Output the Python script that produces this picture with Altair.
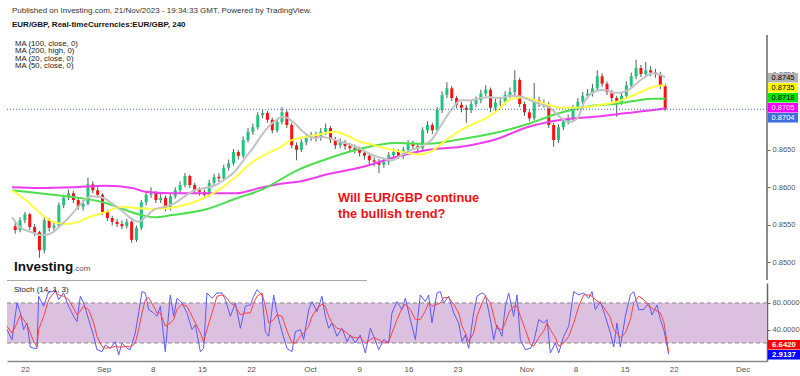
import altair as alt
import pandas as pd

FONT = "Liberation Sans, Arial, sans-serif"

# ---------------- price candles (4h-ish, two per trading day) ----------------
first_open = 0.8548
closes = [0.8543, 0.8556, 0.8564, 0.8547, 0.8540, 0.8516, 0.8556, 0.8546, 0.8549, 0.8576,
          0.8586, 0.8592, 0.8583, 0.8574, 0.8578, 0.8604, 0.8596, 0.8590, 0.8567, 0.8559,
          0.8554, 0.8551, 0.8548, 0.8554, 0.8530, 0.8546, 0.8580, 0.8590, 0.8592, 0.8583,
          0.8586, 0.8572, 0.8588, 0.8596, 0.8603, 0.8615, 0.8603, 0.8596, 0.8594, 0.8590,
          0.8606, 0.8614, 0.8612, 0.8626, 0.8632, 0.8647, 0.8642, 0.8663, 0.8674, 0.8680,
          0.8696, 0.8699, 0.8690, 0.8676, 0.8687, 0.8700, 0.8683, 0.8656, 0.8650, 0.8660,
          0.8666, 0.8670, 0.8666, 0.8674, 0.8679, 0.8663, 0.8656, 0.8660, 0.8655, 0.8652,
          0.8650, 0.8646, 0.8642, 0.8636, 0.8634, 0.8630, 0.8634, 0.8643, 0.8647, 0.8642,
          0.8650, 0.8659, 0.8655, 0.8652, 0.8676, 0.8683, 0.8676, 0.8703, 0.8723, 0.8732,
          0.8719, 0.8710, 0.8706, 0.8703, 0.8711, 0.8716, 0.8725, 0.8730, 0.8706, 0.8713,
          0.8714, 0.8723, 0.8727, 0.8743, 0.8711, 0.8700, 0.8692, 0.8716, 0.8712, 0.8711,
          0.8683, 0.8663, 0.8680, 0.8688, 0.8692, 0.8706, 0.8714, 0.8722, 0.8725, 0.8732,
          0.8748, 0.8738, 0.8727, 0.8719, 0.8714, 0.8722, 0.8736, 0.8748, 0.8759, 0.8751,
          0.8756, 0.8753, 0.8751, 0.8735, 0.8704]
highs = [0.8553, 0.8560, 0.8567, 0.8566, 0.8551, 0.8542, 0.8560, 0.8559, 0.8553, 0.8580,
         0.8590, 0.8597, 0.8595, 0.8586, 0.8583, 0.8613, 0.8608, 0.8600, 0.8592, 0.8570,
         0.8562, 0.8558, 0.8556, 0.8558, 0.8556, 0.8549, 0.8583, 0.8595, 0.8600, 0.8595,
         0.8591, 0.8589, 0.8592, 0.8600, 0.8608, 0.8619, 0.8617, 0.8606, 0.8600, 0.8597,
         0.8610, 0.8618, 0.8619, 0.8630, 0.8637, 0.8651, 0.8650, 0.8668, 0.8679, 0.8685,
         0.8700, 0.8703, 0.8702, 0.8693, 0.8691, 0.8707, 0.8703, 0.8686, 0.8660, 0.8664,
         0.8670, 0.8674, 0.8674, 0.8679, 0.8685, 0.8682, 0.8667, 0.8665, 0.8663, 0.8659,
         0.8657, 0.8654, 0.8650, 0.8646, 0.8640, 0.8638, 0.8638, 0.8647, 0.8652, 0.8651,
         0.8654, 0.8663, 0.8662, 0.8659, 0.8680, 0.8688, 0.8686, 0.8707, 0.8728, 0.8740,
         0.8735, 0.8722, 0.8714, 0.8710, 0.8715, 0.8721, 0.8730, 0.8736, 0.8733, 0.8718,
         0.8720, 0.8728, 0.8733, 0.8756, 0.8746, 0.8714, 0.8704, 0.8739, 0.8721, 0.8717,
         0.8714, 0.8686, 0.8684, 0.8692, 0.8697, 0.8710, 0.8719, 0.8727, 0.8731, 0.8738,
         0.8756, 0.8752, 0.8741, 0.8730, 0.8722, 0.8726, 0.8741, 0.8753, 0.8770, 0.8763,
         0.8767, 0.8762, 0.8758, 0.8754, 0.8738]
lows = [0.8538, 0.8540, 0.8552, 0.8543, 0.8535, 0.8506, 0.8512, 0.8541, 0.8540, 0.8546,
        0.8572, 0.8583, 0.8579, 0.8570, 0.8569, 0.8576, 0.8592, 0.8586, 0.8563, 0.8555,
        0.8549, 0.8547, 0.8544, 0.8545, 0.8526, 0.8527, 0.8543, 0.8576, 0.8586, 0.8579,
        0.8579, 0.8568, 0.8569, 0.8585, 0.8592, 0.8600, 0.8599, 0.8592, 0.8589, 0.8585,
        0.8587, 0.8602, 0.8607, 0.8609, 0.8622, 0.8629, 0.8637, 0.8639, 0.8660, 0.8670,
        0.8677, 0.8692, 0.8686, 0.8672, 0.8673, 0.8684, 0.8679, 0.8652, 0.8636, 0.8647,
        0.8656, 0.8662, 0.8661, 0.8662, 0.8670, 0.8659, 0.8651, 0.8652, 0.8650, 0.8647,
        0.8645, 0.8641, 0.8637, 0.8631, 0.8628, 0.8619, 0.8626, 0.8630, 0.8639, 0.8638,
        0.8638, 0.8646, 0.8650, 0.8647, 0.8649, 0.8672, 0.8671, 0.8673, 0.8699, 0.8719,
        0.8715, 0.8705, 0.8700, 0.8686, 0.8699, 0.8707, 0.8712, 0.8721, 0.8700, 0.8702,
        0.8708, 0.8710, 0.8719, 0.8723, 0.8707, 0.8695, 0.8688, 0.8689, 0.8707, 0.8706,
        0.8679, 0.8654, 0.8659, 0.8676, 0.8684, 0.8689, 0.8702, 0.8710, 0.8718, 0.8721,
        0.8728, 0.8734, 0.8723, 0.8714, 0.8694, 0.8710, 0.8718, 0.8732, 0.8744, 0.8747,
        0.8747, 0.8748, 0.8746, 0.8731, 0.8702]
opens = [first_open] + closes[:-1]
candle_td = [-1.5 + 0.5 * i for i in range(len(closes))]   # trading-day time axis

# ---------------- moving averages ----------------
ma20_td = [-1.83, -1.02, 0.20, 1.22, 2.24, 3.26, 4.27, 5.29, 6.31, 7.32, 8.34, 9.36, 10.38,
           11.19, 11.90, 12.92, 13.94, 14.95, 15.97, 16.99, 18.01, 19.02, 20.04, 21.06, 22.08,
           23.09, 24.11, 25.13, 26.14, 27.16, 28.18, 29.20, 30.21, 31.23, 32.25, 33.26, 34.28,
           35.30, 36.32, 37.33, 38.35, 39.37, 40.39, 41.40, 42.42, 43.44, 44.46, 45.47, 46.49,
           47.51, 48.52, 49.54, 50.56, 51.58, 52.59, 53.61, 54.63, 55.65, 56.46, 57.17, 58.19,
           59.21, 60.22, 60.94, 61.75, 62.97, 64.29, 65.51]
ma20_v = [0.8560, 0.8547, 0.8540, 0.8536, 0.8539, 0.8550, 0.8563, 0.8578, 0.8588, 0.8587,
          0.8580, 0.8570, 0.8559, 0.8554, 0.8560, 0.8571, 0.8574, 0.8579, 0.8588, 0.8596,
          0.8599, 0.8602, 0.8610, 0.8620, 0.8637, 0.8654, 0.8673, 0.8687, 0.8694, 0.8687,
          0.8674, 0.8666, 0.8667, 0.8664, 0.8660, 0.8656, 0.8650, 0.8643, 0.8639, 0.8636,
          0.8643, 0.8650, 0.8655, 0.8663, 0.8683, 0.8703, 0.8716, 0.8716, 0.8719, 0.8720,
          0.8719, 0.8722, 0.8721, 0.8716, 0.8711, 0.8706, 0.8694, 0.8687, 0.8692, 0.8714,
          0.8727, 0.8730, 0.8726, 0.8726, 0.8730, 0.8743, 0.8752, 0.8747]
ma50_td = [-1.83, -0.31, 1.02, 2.44, 3.76, 4.78, 6.10, 7.83, 9.56, 11.19, 12.92, 14.24, 17.50,
           19.53, 21.26, 22.89, 24.62, 25.94, 26.65, 27.98, 29.70, 31.43, 32.55, 33.98, 35.30,
           36.62, 38.05, 39.37, 40.08, 41.40, 42.73, 44.15, 45.47, 46.80, 48.22, 49.34, 50.76,
           52.09, 53.41, 54.83, 56.15, 57.48, 58.90, 60.22, 61.55, 62.97, 64.29, 65.51]
ma50_v = [0.8596, 0.8582, 0.8566, 0.8554, 0.8551, 0.8553, 0.8560, 0.8567, 0.8574, 0.8572,
          0.8571, 0.8572, 0.8583, 0.8597, 0.8614, 0.8633, 0.8646, 0.8654, 0.8661, 0.8666,
          0.8670, 0.8674, 0.8670, 0.8661, 0.8657, 0.8652, 0.8648, 0.8645, 0.8644, 0.8648,
          0.8661, 0.8674, 0.8683, 0.8691, 0.8702, 0.8716, 0.8720, 0.8716, 0.8710, 0.8706,
          0.8706, 0.8707, 0.8710, 0.8713, 0.8719, 0.8727, 0.8734, 0.8736]
ma100_td = [-1.83, 1.02, 4.48, 7.83, 9.56, 11.19, 12.92, 14.65, 18.01, 21.26, 24.11, 27.46,
            30.92, 34.28, 37.64, 41.10, 44.46, 47.82, 51.27, 54.12, 56.15, 58.19, 60.22,
            62.26, 64.29, 65.51]
ma100_v = [0.8596, 0.8592, 0.8587, 0.8579, 0.8571, 0.8564, 0.8560, 0.8563, 0.8570, 0.8585,
           0.8598, 0.8622, 0.8639, 0.8652, 0.8659, 0.8658, 0.8664, 0.8672, 0.8684, 0.8697,
           0.8704, 0.8709, 0.8711, 0.8715, 0.8718, 0.8718]
ma200_td = [-1.83, 1.02, 4.48, 7.83, 10.58, 11.90, 14.45, 18.01, 21.26, 23.70, 26.04, 27.46,
            30.92, 34.28, 37.64, 41.10, 44.46, 47.82, 51.27, 54.83, 58.19, 61.55, 64.29, 65.51]
ma200_v = [0.8600, 0.8599, 0.8600, 0.8602, 0.8599, 0.8594, 0.8592, 0.8592, 0.8592, 0.8599,
           0.8605, 0.8607, 0.8618, 0.8627, 0.8640, 0.8650, 0.8654, 0.8663, 0.8680, 0.8690,
           0.8694, 0.8699, 0.8703, 0.8705]

# ---------------- stochastic (14, 1, 3) ----------------
stoch_td = [-1.83, -1.32, -0.81, -0.47, -0.14, 0.20, 0.54, 0.88, 1.22, 1.39,
            1.90, 2.41, 2.75, 3.09, 3.42, 3.93, 4.44, 4.95, 5.29, 5.63,
            5.97, 6.48, 6.99, 7.32, 7.83, 8.17, 8.68, 9.19, 9.53, 9.87,
            10.38, 10.71, 11.22, 11.56, 11.90, 12.24, 12.58, 13.09, 13.43, 13.77,
            14.27, 14.78, 15.12, 15.46, 15.97, 16.48, 16.99, 17.33, 17.84, 18.17,
            18.51, 19.02, 19.53, 20.04, 20.38, 20.89, 21.40, 21.91, 22.41, 22.92,
            23.26, 23.60, 24.11, 24.45, 24.79, 25.30, 25.64, 26.14, 26.65, 27.16,
            27.50, 28.01, 28.35, 28.86, 29.20, 29.71, 30.21, 30.55, 30.89, 31.23,
            31.74, 32.25, 32.76, 33.10, 33.60, 34.11, 34.62, 35.13, 35.47, 35.98,
            36.49, 37.00, 37.33, 37.84,
            38.35, 38.69, 39.20, 39.71, 40.21, 40.72, 41.06, 41.40, 41.91, 42.25,
            42.59, 43.10, 43.61, 44.12, 44.46, 44.79, 45.13, 45.64, 45.98, 46.49,
            46.83, 47.34, 47.68, 48.02, 48.52, 48.86, 49.20, 49.71, 50.05, 50.39,
            50.90, 51.41, 51.75, 52.26, 52.77, 53.10, 53.44, 53.95, 54.29, 54.80,
            55.31, 55.82, 56.33, 56.83, 57.34, 57.68, 58.02, 58.53, 59.03, 59.54,
            59.89, 60.22, 60.56, 61.07, 61.58, 61.92, 62.43, 62.94, 63.45, 63.78,
            64.29, 64.63, 64.98, 65.48]
stoch_k = [40, 25, 80, 65, 40, 50, 14, 12, 12, 90, 75, 97, 97, 100, 85, 95, 75, 60, 52, 90,
           80, 55, 30, 10, 7, 17, 12, 22, 2, 20, 12, 10, 35, 65, 97, 95, 70, 65, 60, 75,
           7, 92, 60, 87, 80, 65, 40, 47, 7, 12, 95, 87, 95, 95, 85, 60, 80, 42, 75, 77,
           90, 100, 92, 37, 30, 92, 65, 37, 12, 7, 37, 40, 25, 70, 82, 67, 90, 60, 42, 50,
           30, 42, 22, 32, 20, 32, 5, 42, 30, 10, 25, 20, 65, 82,
           70, 87, 55, 25, 92, 82, 92, 50, 95, 97, 80, 90, 65, 50, 22, 32, 12, 65, 90, 95,
           92, 55, 25, 47, 30, 75, 95, 60, 92, 25, 10, 12, 22, 55, 50, 55, 5, 20, 5, 30,
           45, 97, 92, 95, 87, 97, 70, 82, 60, 35, 14, 50, 14, 60, 92, 97, 70, 70, 80, 62,
           77, 55, 40, 2.9137]
stoch_d = [45, 35, 50, 62, 55, 48, 35, 22, 14, 40, 60, 85, 92, 97, 92, 90, 85, 72, 62, 68,
           75, 70, 50, 30, 15, 12, 13, 15, 14, 14, 15, 14, 20, 40, 65, 85, 88, 75, 65, 65,
           45, 50, 55, 70, 78, 75, 60, 50, 35, 22, 40, 65, 90, 92, 90, 80, 75, 62, 65, 65,
           80, 90, 95, 75, 50, 55, 62, 60, 38, 20, 20, 30, 35, 45, 60, 72, 78, 75, 60, 50,
           42, 40, 35, 30, 28, 28, 20, 25, 28, 25, 20, 22, 35, 55,
           72, 78, 70, 55, 55, 68, 80, 75, 78, 80, 88, 88, 78, 65, 45, 35, 22, 35, 60, 80,
           90, 80, 60, 42, 40, 50, 65, 75, 75, 60, 40, 18, 15, 28, 38, 50, 40, 28, 15, 20,
           30, 50, 75, 92, 92, 90, 85, 80, 70, 58, 40, 35, 28, 35, 55, 80, 90, 85, 75, 72,
           68, 65, 52, 6.6420]

# ---------------- axis labels ----------------
tick_td = [0, 8, 13, 18, 23, 29, 34, 39, 44, 51, 56, 61, 66, 73]
tick_labels = ["22", "Sep", "8", "15", "22", "Oct", "9", "16", "23", "Nov", "8", "15", "22", "Dec"]
price_ticks = [0.8500, 0.8550, 0.8600, 0.8650, 0.8750]
stoch_ticks = [40, 80]

header1 = "Published on Investing.com, 21/Nov/2023 - 19:34:33 GMT, Powered by TradingView."
header2 = "EUR/GBP, Real-timeCurrencies:EUR/GBP, 240"
ma_legend = ["MA (100, close, 0)", "MA (200, high, 0)", "MA (20, close, 0)", "MA (50, close, 0)"]
question = ["Will EUR/GBP continue", "the bullish trend?"]

price_flags = [("0.8745", "#b4b4b4", "black"), ("0.8735", "#ffff00", "black"),
               ("0.8718", "#00e600", "black"), ("0.8705", "#ff00ff", "white"),
               ("0.8704", "#3f6fdc", "white")]
stoch_flags = [("6.6420", "#ff0000", "white"), ("2.9137", "#0000ff", "white")]

# ---------------- build ----------------
W = 760
H_TOP = 280
H_ST = 78

candles = pd.DataFrame({"td": candle_td, "open": opens, "high": highs, "low": lows,
                        "close": closes})
candles["dir"] = ["up" if c >= o else "down" for o, c in zip(opens, closes)]

xscale = alt.Scale(domain=[-1.83, 75.48], nice=False, zero=False)
yscale_p = alt.Scale(domain=[0.84764, 0.88497], nice=False, zero=False)
yaxis_p = alt.Axis(orient="right", values=price_ticks, format=".4f", title=None, grid=False,
                   domain=False, tickSize=3, tickColor="#666", labelColor="#555",
                   labelFont=FONT, labelFontSize=7.5, labelPadding=2)


def XT(field):
    return alt.X(field, scale=xscale, axis=None, title=None)


def YP(field):
    return alt.Y(field, scale=yscale_p, axis=yaxis_p, title=None)


def txt(text, x, y, size=8, color="#222", weight="normal", align="left"):
    return alt.Chart(pd.DataFrame({"t": [text]})).mark_text(
        align=align, baseline="middle", fontSize=size, color=color, fontWeight=weight,
        font=FONT).encode(x=alt.value(x), y=alt.value(y), text="t:N")


dir_color = alt.Color("dir:N", scale=alt.Scale(domain=["up", "down"],
                                               range=["#21c47f", "#ff1010"]), legend=None)

wicks = alt.Chart(candles).mark_rule(strokeWidth=1, color="#4a6354").encode(
    x=XT("td:Q"), y=YP("low:Q"), y2="high:Q")
bodies = alt.Chart(candles).mark_bar(size=3).encode(
    x=XT("td:Q"), y=YP("open:Q"), y2="close:Q", color=dir_color)


def ma_line(tds, vals, color):
    df = pd.DataFrame({"td": tds, "v": vals})
    return alt.Chart(df).mark_line(color=color, strokeWidth=2, interpolate="monotone").encode(
        x=XT("td:Q"), y=YP("v:Q"))


ma200 = ma_line(ma200_td, ma200_v, "#f03cf0")
ma100 = ma_line(ma100_td, ma100_v, "#4be04b")
ma50 = ma_line(ma50_td, ma50_v, "#ffff44")
ma20 = ma_line(ma20_td, ma20_v, "#c3c3c3")

last_line = alt.Chart(pd.DataFrame({"p": [closes[-1]]})).mark_rule(
    color="#3f6fdc", strokeDash=[1, 2], strokeWidth=1).encode(
    y=YP("p:Q"), x=alt.value(0), x2=alt.value(W))

axis_line = alt.Chart(pd.DataFrame({"a": [0]})).mark_rule(color="#666", strokeWidth=1.5).encode(
    x=alt.value(W), y=alt.value(35), y2=alt.value(H_TOP))
sep_line = alt.Chart(pd.DataFrame({"a": [0]})).mark_rule(color="#aaa", strokeWidth=1).encode(
    x=alt.value(0), x2=alt.value(360), y=alt.value(H_TOP + 0.5))

top_layers = [wicks, bodies, ma200, ma100, ma50, ma20, last_line, axis_line, sep_line]

top_layers.append(txt(header1, 5, 11, size=8, color="#333"))
top_layers.append(txt(header2, 5, 25, size=8, color="#111", weight="bold"))
for i, s in enumerate(ma_legend):
    top_layers.append(txt(s, 8, 43.5 + 7.6 * i, size=7.8, color="#222"))
top_layers.append(txt(question[0], 331, 198, size=12.8, color="#ee1111", weight="bold"))
top_layers.append(txt(question[1], 331, 214, size=12.8, color="#ee1111", weight="bold"))
top_layers.append(txt("Investing", 7, 267, size=13.5, color="#111", weight="bold"))
top_layers.append(txt(".com", 66, 269, size=8, color="#555"))

for i, (lab, bg, fg) in enumerate(price_flags):
    yc = 78 + 10 * i
    box = alt.Chart(pd.DataFrame({"t": [lab]})).mark_rect(color=bg).encode(
        x=alt.value(W + 1), x2=alt.value(W + 31), y=alt.value(yc - 5), y2=alt.value(yc + 4.5))
    top_layers.append(box)
    top_layers.append(txt(lab, W + 16, yc, size=7.5, color=fg, align="center"))

top = alt.layer(*top_layers).properties(width=W, height=H_TOP)

# ---------------- stochastic panel ----------------
yscale_s = alt.Scale(domain=[-7.0, 109.9], nice=False, zero=False)
yaxis_s = alt.Axis(orient="right", values=stoch_ticks, format=".4f", title=None, grid=False,
                   domain=True, domainColor="#666", domainWidth=1.5, tickSize=3,
                   tickColor="#666", labelColor="#555", labelFont=FONT, labelFontSize=7.5,
                   labelPadding=2)
label_expr = "[" + ",".join("'%s'" % s for s in tick_labels) + "][indexof([" + \
    ",".join(str(v) for v in tick_td) + "], datum.value)]"
xaxis_s = alt.Axis(values=tick_td, labelExpr=label_expr, title=None, grid=False, ticks=False,
                   domainColor="#888", domainWidth=1.5, labelColor="#555", labelFont=FONT,
                   labelFontSize=8, labelPadding=4, labelFlush=False, labelOverlap=False)


def XS(field):
    return alt.X(field, scale=xscale, axis=xaxis_s, title=None)


def YS(field):
    return alt.Y(field, scale=yscale_s, axis=yaxis_s, title=None)


stoch = pd.DataFrame({"td": stoch_td, "k": stoch_k, "d": stoch_d})
band = alt.Chart(pd.DataFrame({"lo": [20], "hi": [80]})).mark_rect(color="#dcc0e0").encode(
    x=alt.value(0), x2=alt.value(W), y=YS("lo:Q"), y2="hi:Q")
dashes = alt.Chart(pd.DataFrame({"lv": [20, 80]})).mark_rule(
    color="#8a8a8a", strokeDash=[4, 3], strokeWidth=1).encode(
    y=YS("lv:Q"), x=alt.value(0), x2=alt.value(W))
k_line = alt.Chart(stoch).mark_line(color="#5a5aff", strokeWidth=1).encode(
    x=XS("td:Q"), y=YS("k:Q"))
d_line = alt.Chart(stoch).mark_line(color="#ff4040", strokeWidth=1).encode(
    x=XS("td:Q"), y=YS("d:Q"))

st_layers = [band, dashes, k_line, d_line, txt("Stoch (14, 1, 3)", 7, 7, size=8, color="#222")]
for i, (lab, bg, fg) in enumerate(stoch_flags):
    yc = 62 + 10 * i
    st_layers.append(alt.Chart(pd.DataFrame({"t": [lab]})).mark_rect(color=bg).encode(
        x=alt.value(W + 1), x2=alt.value(W + 33), y=alt.value(yc - 5), y2=alt.value(yc + 4.5)))
    st_layers.append(txt(lab, W + 17, yc, size=7.8, color=fg, weight="bold", align="center"))

bottom = alt.layer(*st_layers).properties(width=W, height=H_ST)

chart = alt.vconcat(top, bottom, spacing=2).properties(
    padding={"left": 5, "top": 0, "right": 0, "bottom": 0},
    background="white",
).configure_view(strokeWidth=0)

chart.save("out.html", embed_options={"renderer": "svg", "actions": False})
